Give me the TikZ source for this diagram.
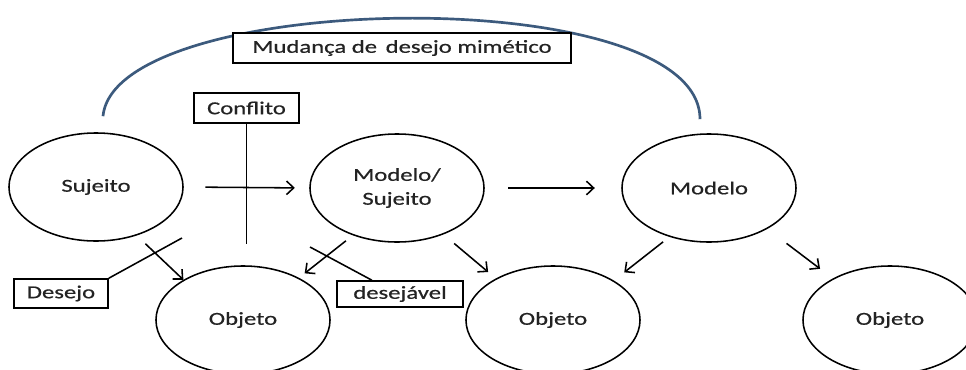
\documentclass[tikz,border=0pt]{standalone}
\usepackage{fontspec}
\setmainfont{Carlito}[FakeStretch=1.35,FakeBold=0.6]
\usetikzlibrary{shapes.geometric,arrows.meta,calc}
\definecolor{arcblue}{RGB}{60,90,125}
\definecolor{inkgray}{RGB}{35,35,35}
\tikzset{
	stage/.style={draw=black,ellipse,minimum width=4.35cm,minimum height=2.7cm,align=center,text=inkgray},
	tag/.style={draw=black,rectangle,minimum height=0.75cm,inner sep=0pt,text=inkgray},
	flow/.style={-{Straight Barb[length=1.8mm,width=3.4mm]}},
	arcline/.style={draw=arcblue,line width=1.9pt}
}
\begin{document}
\begin{tikzpicture}[x=0.025cm,y=-0.025cm,line width=1.1pt,font=\fontsize{13}{15}\selectfont]
		\useasboundingbox (0,0) rectangle (966,369);
		\node[stage] (suj) at (96,187) {Sujeito};
		\node[stage] (modsuj) at (397,188) {Modelo/\\[2pt]Sujeito};
		\node[stage] (modelo) at (709,188) {Modelo};
		
		\node[stage] (obj1) at (243,320) {Objeto};
		\node[stage] (obj2) at (553,320) {Objeto};
		\node[stage] (obj3) at (890,320) {Objeto};
		
		% mudanca
		\draw[arcline] ([shift={(7,-16)}]suj.north) .. controls (115,-10) and (700,-20) .. ([shift={(-9,-14)}]modelo.north);
		\node[tag,fill=white,minimum width=8.45cm] (mud) at (402,48) {Mudança de\, desejo mimético};
		
		% conflito
		\node[tag,minimum width=2.625cm] (conf) at (246.5,108) {Conflito};
		\draw (conf.south) -- ++(0,120);
		
		\draw[flow,shorten <=0.54cm,shorten >=0.36cm] (suj.east) -- (modsuj.west);
		\draw[flow,shorten <=0.59cm,shorten >=0.66cm] (modsuj.east) -- (modelo.west);
		
		\draw[flow,shorten <=0.3cm] (suj.-50) -- (obj1.146);
		\draw[flow,shorten <=0.22cm,shorten >=0.18cm] (modsuj.-133) -- (obj1.37);
		\draw[flow,shorten <=0.35cm,shorten >=0.25cm] (modsuj.-45) -- (obj2.144);
		\draw[flow,shorten <=0.2cm,shorten >=0.33cm] (modelo.-129) -- (obj2.33);
		\draw[flow,shorten <=0.6cm,shorten >=0.4cm] (modelo.-35) -- (obj3.144);
		
		% desejo / desejavel
		\node[tag,minimum width=2.35cm,minimum height=0.725cm] (des) at (61,293.5) {Desejo};
		\coordinate (desend) at (182,238);
		\draw (des.north east) -- (desend);
		
		\node[tag,minimum width=3.15cm,minimum height=0.65cm] (desj) at (400,294) {desejável};
		\coordinate (desjend) at (310,247);
		\draw ($(desj.north west)!0.28!(desj.north east)$) -- (desjend);
	\end{tikzpicture}
\end{document}
